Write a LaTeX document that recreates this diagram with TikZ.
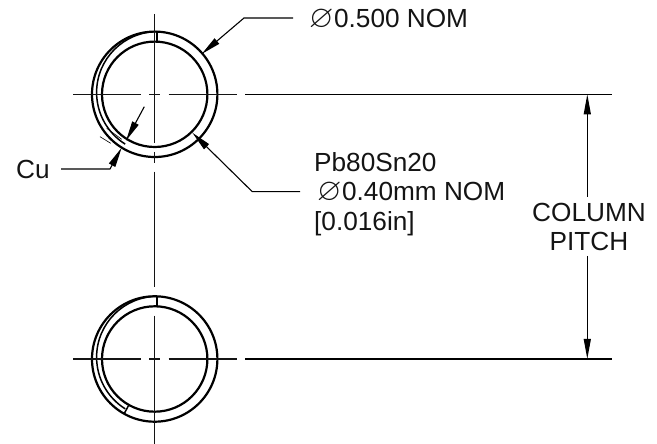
\documentclass[tikz,border=0pt]{standalone}
\usepackage{amssymb}
\usepackage{fontspec}
\setmainfont{Liberation Sans}
\definecolor{inkblack}{RGB}{20,20,20}
\usetikzlibrary{arrows.meta,calc}
\newcommand{\diasym}{{\fontsize{31.4}{29.5}\selectfont$\varnothing$}}

\begin{document}
\begin{tikzpicture}[x=1pt,y=1pt,
    ring/.style={line width=2.2pt, color=black},
    axis/.style={line width=1.1pt, color=inkblack},
    extline/.style={line width=1.1pt, color=black},
    leader/.style={line width=1.1pt, color=black},
    tip/.style={-{Triangle[length=20pt,width=7pt]}},
    label/.style={font=\fontsize{26.2}{29.5}\selectfont, text=inkblack, inner sep=0pt}
]
    \useasboundingbox (0,0) rectangle (657,444);

    % Solder columns
    \foreach \cy/\col in {349.7/top,85/bot} {
        \coordinate (c\col) at (154.7,\cy);
        \coordinate (cu\col) at (157.5,\cy+1.8);
        \draw[ring] (c\col) circle (62.7pt);
        \draw[ring] (c\col) circle (52.7pt);
        % Cu layer
        \draw[ring, line width=1.5pt] ([shift={(90:60.9pt)}]cu\col) arc[start angle=90, end angle=238, radius=60.9pt];
        \draw[ring, line width=1.5pt] (157,\cy+62.5) -- (157,\cy+52.5);
        % Centre lines
        \draw[axis] (73.3,\cy) -- (140.7,\cy) (149.3,\cy) -- (160,\cy) (168.7,\cy) -- (236.7,\cy);
        \draw[extline] (245,\cy) -- (612,\cy);
        \coordinate (ext\col) at (587.3,\cy);
    }
    \draw[ring, line width=1.5pt] (124,30) -- (128.3,38);
    \draw[axis] (154.7,430) -- (154.7,300.7) (154.7,292) -- (154.7,281.3) (154.7,272.3) -- (154.7,156.7) (154.7,128.3) -- (154.7,0);

    % Column pitch
    \node[label, align=center, anchor=base] (pitch) at (589,193) {COLUMN\\PITCH};
    \coordinate (dimtop) at (587.3,247.3);
    \coordinate (dimbot) at (587.3,188);
    \draw[leader, tip] (dimtop) -- (exttop);
    \draw[leader, tip] (dimbot) -- (extbot);

    % Outer diameter
    \node[label, anchor=base west] (nom) at (309,416.7) {\diasym\hspace{0.5pt}0.500 NOM};
    \coordinate (nomstart) at (293,426);
    \coordinate (nomelbow) at (244,426);
    \coordinate (nomtip) at (201.7,390);
    \draw[leader, tip] (nomstart) -- (nomelbow) -- (nomtip);

    % Solder diameter
    \node[label, align=left, anchor=north west] (solder) at (314,292) {Pb80Sn20\\\hspace{3pt}\diasym\hspace{0.5pt}0.40mm NOM\\{[0.016in]}};
    \coordinate (pbstart) at (300,252.3);
    \coordinate (pbelbow) at (252.3,252.3);
    \coordinate (pbtip) at (192.3,311.3);
    \draw[leader, tip] (pbstart) -- (pbelbow) -- (pbtip);

    % Cu thickness
    \node[label, anchor=base west] (cu) at (16,265.7) {Cu};
    \coordinate (custart) at (61,275);
    \coordinate (cuelbow) at (110,275);
    \coordinate (cutip) at (121.7,296.3);
    \draw[leader, tip] (custart) -- (cuelbow) -- (cutip);
    \coordinate (cuinner) at (144.3,337.3);
    \coordinate (cutipin) at (126,303.3);
    \draw[leader, tip] (cuinner) -- (cutipin);
    \draw[leader, line width=0.6pt] (100,307.3) -- (110.7,300.7);
    \draw[leader, line width=0.6pt] (106.7,315.7) -- (121.7,304.7);
\end{tikzpicture}
\end{document}
